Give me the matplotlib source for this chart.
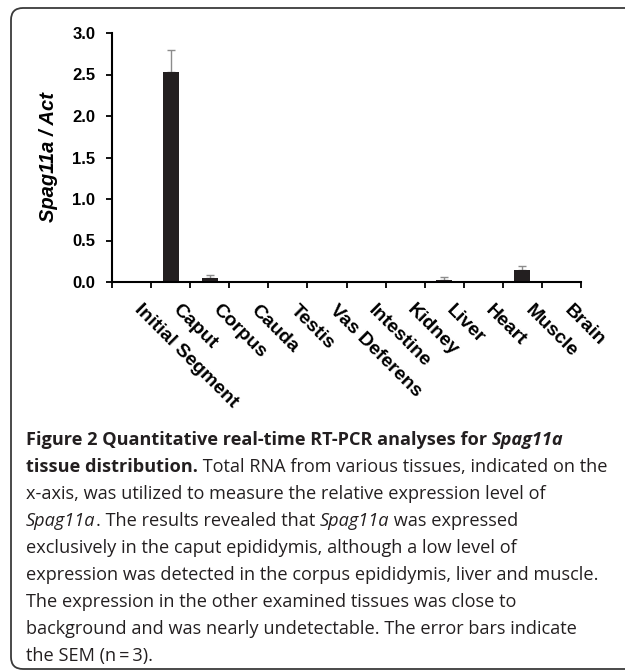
import numpy as np
import matplotlib
matplotlib.use("Agg")
import matplotlib.pyplot as plt
import matplotlib.transforms as mtransforms
from matplotlib.path import Path
from matplotlib.patches import PathPatch

tissues = ["Initial Segment", "Caput", "Corpus", "Cauda", "Testis", "Vas Deferens",
           "Intestine", "Kidney", "Liver", "Heart", "Muscle", "Brain"]
ratio = [0.0, 2.53, 0.05, 0.0, 0.0, 0.0, 0.0, 0.0, 0.03, 0.0, 0.145, 0.0]
sem = [0.0, 0.26, 0.03, 0.0, 0.0, 0.0, 0.0, 0.0, 0.03, 0.0, 0.05, 0.0]
yticks = [0.0, 0.5, 1.0, 1.5, 2.0, 2.5, 3.0]

W, H = 625, 670
fig = plt.figure(figsize=(W / 100, H / 100), dpi=100)

# frame: rounded on the left, running off the right and bottom of the image
def px(x, y):
    return (x / W, 1 - y / H)

r = 12
verts = [px(640, 8), px(11 + r, 8), px(11, 8), px(11, 8 + r),
         px(11, 669 - r), px(11, 669), px(11 + r, 669), px(640, 669)]
codes = [Path.MOVETO, Path.LINETO, Path.CURVE3, Path.CURVE3,
         Path.LINETO, Path.CURVE3, Path.CURVE3, Path.LINETO]
fig.patches.append(PathPatch(Path(verts, codes), transform=fig.transFigure,
                             fill=False, edgecolor="#3a3a3a", linewidth=1.3))

ax = fig.add_axes([112 / W, 1 - 282 / H, (581 - 112) / W, (282 - 33) / H])
x = np.arange(len(tissues))
ax.bar(x, ratio, width=0.41, color="#231f20", zorder=2)
yerr = np.array([np.zeros(len(sem)), sem])
ax.errorbar(x, ratio, yerr=yerr, fmt="none", ecolor="#8c8c8c", elinewidth=1.0,
            capsize=3, capthick=1.0, zorder=1)

ax.set_xlim(-0.5, len(tissues) - 0.5)
ax.set_ylim(0, 3.0)
ax.set_yticks(yticks)
ax.set_yticklabels([f"{v:.1f}" for v in yticks], fontsize=12,
                   fontweight="bold", family="Liberation Sans")
ax.set_xticks(np.arange(-0.5, len(tissues), 1.0))
ax.set_xticklabels([])
ax.tick_params(axis="x", length=4, width=1.3, direction="out")
ax.tick_params(axis="y", length=4, width=1.3, direction="out", pad=8)

# category names, rotated, hanging below each bar
lab_tr = ax.get_xaxis_transform() + mtransforms.ScaledTranslation(
    8 / 72, -14 / 72, fig.dpi_scale_trans)
for xi, name in zip(x, tissues):
    ax.text(xi, 0, name, transform=lab_tr, rotation=-45, ha="left", va="top",
            rotation_mode="anchor", fontsize=14, fontweight="bold",
            family="Liberation Sans", clip_on=False)

for s in ["top", "right"]:
    ax.spines[s].set_visible(False)
for s in ["left", "bottom"]:
    ax.spines[s].set_linewidth(1.5)
ax.set_ylabel("Spag11a / Act", fontsize=14.5, fontweight="bold", style="italic",
              family="Liberation Sans", labelpad=10)

# caption with mixed styles
cap_font = "Open Sans"
cap_size = 13.1
lines = [
    [("Figure 2 Quantitative real-time RT-PCR analyses for ", "bold", "normal"),
     ("Spag11a", "bold", "italic")],
    [("tissue distribution.", "bold", "normal"),
     (" Total RNA from various tissues, indicated on the", "normal", "normal")],
    [("x-axis, was utilized to measure the relative expression level of", "normal", "normal")],
    [("Spag11a", "normal", "italic"), (". The results revealed that ", "normal", "normal"),
     ("Spag11a", "normal", "italic"), (" was expressed", "normal", "normal")],
    [("exclusively in the caput epididymis, although a low level of", "normal", "normal")],
    [("expression was detected in the corpus epididymis, liver and muscle.", "normal", "normal")],
    [("The expression in the other examined tissues was close to", "normal", "normal")],
    [("background and was nearly undetectable. The error bars indicate", "normal", "normal")],
    [("the SEM (n\u2009=\u20093).", "normal", "normal")],
]
y0 = 445
dy = 27
cap_texts = []
for i, parts in enumerate(lines):
    yb = 1 - (y0 + i * dy) / H
    row = []
    for txt, wt, st in parts:
        row.append(fig.text(26 / W, yb, txt, ha="left", va="baseline",
                            fontsize=cap_size, fontweight=wt, style=st,
                            family=[cap_font, "DejaVu Sans"], color="#231f20"))
    cap_texts.append(row)

# place the pieces of each caption line one after another
fig.canvas.draw()
rend = fig.canvas.get_renderer()
for row in cap_texts:
    xpos = row[0].get_window_extent(rend).x1
    for t in row[1:]:
        t.set_x(xpos / W)
        xpos = t.get_window_extent(rend).x1

fig.savefig("out.png", dpi=100)
